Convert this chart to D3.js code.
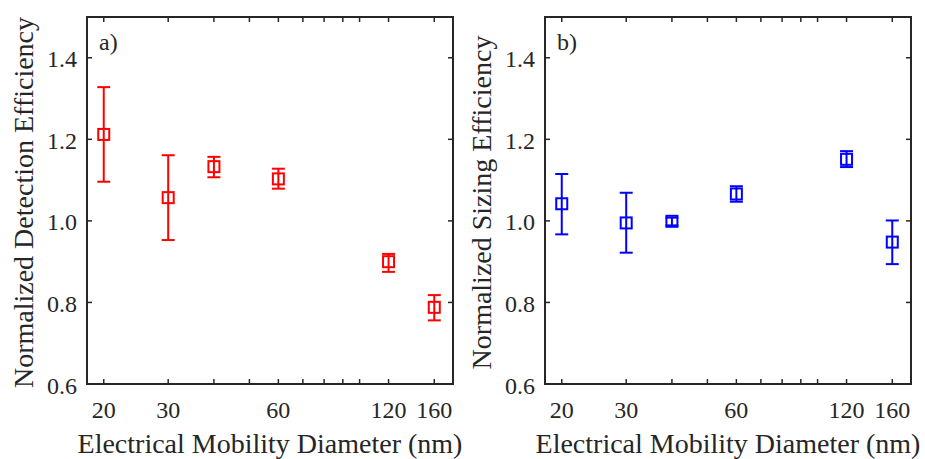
<!DOCTYPE html>
<html><head><meta charset="utf-8">
<script src="https://cdn.jsdelivr.net/npm/d3@7"></script>
<style>body{margin:0;background:#fff}svg{display:block}</style>
</head><body>
<svg id="c" width="925" height="459"></svg>
<script>
const diameters = [20, 30, 40, 60, 120, 160];
const detectionEff = [1.212, 1.057, 1.133, 1.103, 0.900, 0.788];
const detectionLow = [1.096, 0.953, 1.107, 1.079, 0.875, 0.756];
const detectionHigh = [1.328, 1.161, 1.157, 1.128, 0.919, 0.818];
const sizingEff = [1.042, 0.995, 0.999, 1.066, 1.151, 0.948];
const sizingLow = [0.967, 0.922, 0.989, 1.047, 1.132, 0.894];
const sizingHigh = [1.115, 1.069, 1.008, 1.085, 1.171, 1.001];
const xMajorTicks = [20, 30, 60, 120, 160];
const xMinorTicks = [40, 50, 70, 80, 90, 100];
const yTicks = [0.6, 0.8, 1.0, 1.2, 1.4];

const svg = d3.select("#c");
const axisColor = "#262626";
const font = "'Liberation Serif', 'Times New Roman', serif";

const panels = [
  {left: 87, label: "a)", yTitle: "Normalized Detection Efficiency", color: "#ff0000",
   v: detectionEff, lo: detectionLow, hi: detectionHigh},
  {left: 545, label: "b)", yTitle: "Normalized Sizing Efficiency", color: "#0000ff",
   v: sizingEff, lo: sizingLow, hi: sizingHigh}
];
const W = 366, plotTop = 17, plotBottom = 384;

panels.forEach(p => {
  const x = d3.scaleLog().domain([18, 180]).range([p.left, p.left + W]);
  const y = d3.scaleLinear().domain([0.6, 1.5]).range([plotBottom, plotTop]);
  const g = svg.append("g");
  const tl = 5;
  const allX = xMajorTicks.concat(xMinorTicks);
  allX.forEach(t => {
    g.append("line").attr("x1", x(t)).attr("x2", x(t)).attr("y1", plotBottom).attr("y2", plotBottom - tl)
      .attr("stroke", axisColor).attr("stroke-width", 1.5);
    g.append("line").attr("x1", x(t)).attr("x2", x(t)).attr("y1", plotTop).attr("y2", plotTop + tl)
      .attr("stroke", axisColor).attr("stroke-width", 1.5);
  });
  yTicks.forEach(t => {
    g.append("line").attr("x1", p.left).attr("x2", p.left + tl).attr("y1", y(t)).attr("y2", y(t))
      .attr("stroke", axisColor).attr("stroke-width", 1.5);
    g.append("line").attr("x1", p.left + W).attr("x2", p.left + W - tl).attr("y1", y(t)).attr("y2", y(t))
      .attr("stroke", axisColor).attr("stroke-width", 1.5);
  });
  g.append("rect").attr("x", p.left).attr("y", plotTop).attr("width", W).attr("height", plotBottom - plotTop)
    .attr("fill", "none").attr("stroke", axisColor).attr("stroke-width", 2);
  xMajorTicks.forEach(t => {
    g.append("text").attr("x", x(t)).attr("y", 418).attr("text-anchor", "middle")
      .attr("font-family", font).attr("font-size", 24).attr("fill", axisColor).text(t);
  });
  yTicks.forEach(t => {
    g.append("text").attr("x", p.left - 10).attr("y", y(t) + 9.5).attr("text-anchor", "end")
      .attr("font-family", font).attr("font-size", 24).attr("fill", axisColor).text(t.toFixed(1));
  });
  g.append("text").attr("x", p.left + W / 2).attr("y", 453).attr("text-anchor", "middle")
    .attr("font-family", font).attr("font-size", 28).attr("fill", axisColor)
    .text("Electrical Mobility Diameter (nm)");
  g.append("text").attr("transform", `translate(${p.left - 54},${(plotTop + plotBottom) / 2 + 2}) rotate(-90)`)
    .attr("text-anchor", "middle").attr("font-family", font).attr("font-size", 28).attr("fill", axisColor)
    .text(p.yTitle);
  g.append("text").attr("x", p.left + 12).attr("y", 50).attr("font-family", font).attr("font-size", 24)
    .attr("fill", axisColor).text(p.label);
  const cw = 6.5, ms = 5.5;
  diameters.forEach((d, i) => {
    const cx = x(d);
    g.append("line").attr("x1", cx).attr("x2", cx).attr("y1", y(p.lo[i])).attr("y2", y(p.hi[i]))
      .attr("stroke", p.color).attr("stroke-width", 2);
    [p.lo[i], p.hi[i]].forEach(v => {
      g.append("line").attr("x1", cx - cw).attr("x2", cx + cw).attr("y1", y(v)).attr("y2", y(v))
        .attr("stroke", p.color).attr("stroke-width", 2);
    });
    g.append("rect").attr("x", cx - ms).attr("y", y(p.v[i]) - ms).attr("width", 2 * ms).attr("height", 2 * ms)
      .attr("fill", "none").attr("stroke", p.color).attr("stroke-width", 2);
  });
});
</script>
</body></html>
